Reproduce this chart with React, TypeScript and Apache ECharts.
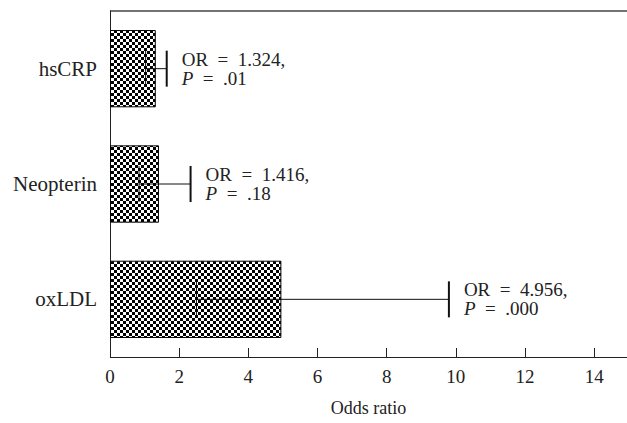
import React, { useEffect, useRef } from "react";
import * as echarts from "echarts";

const categories = ["oxLDL", "Neopterin", "hsCRP"];
const oddsRatios = [4.956, 1.416, 1.324];
const ciLower = [2.5, 0.84, 1.03];
const ciUpper = [9.8, 2.33, 1.64];
const pValues = [".000", ".18", ".01"];
const xTicks = [0, 2, 4, 6, 8, 10, 12, 14];

const FONT = "'Liberation Serif', 'DejaVu Serif', serif";

function makePattern(): string {
  const c = document.createElement("canvas");
  c.width = 6;
  c.height = 6;
  const ctx = c.getContext("2d")!;
  ctx.fillStyle = "#000";
  ctx.fillRect(0, 0, 3, 3);
  ctx.fillRect(3, 3, 3, 3);
  return c.toDataURL();
}

export default function App() {
  const ref = useRef<HTMLDivElement>(null);
  useEffect(() => {
    if (!ref.current) return;
    const chart = echarts.init(ref.current, undefined, { renderer: "svg" });
    const pattern = makePattern();
    const errData = categories.map((_, i) => [i, ciLower[i], ciUpper[i], oddsRatios[i]]);
    chart.setOption({
      animation: false,
      backgroundColor: "#fff",
      grid: {
        left: 110,
        top: 11,
        right: 0,
        height: 346,
        show: false,
      },
      xAxis: [
        {
          type: "value",
          min: 0,
          max: 14.95,
          interval: 2,
          name: "Odds ratio",
          nameLocation: "middle",
          nameGap: 42,
          nameTextStyle: { fontFamily: FONT, fontSize: 18, color: "#222" },
          axisLine: { show: false },
          axisTick: { show: true, inside: true, length: 9, lineStyle: { color: "#222" } },
          splitLine: { show: false },
          axisLabel: {
            fontFamily: FONT,
            fontSize: 19,
            color: "#222",
            margin: 10,
            showMaxLabel: false,
            formatter: (v: number) => (xTicks.indexOf(v) >= 0 ? String(v) : ""),
          },
        },
      ],
      yAxis: {
        type: "category",
        data: categories,
        axisLine: { show: true, lineStyle: { color: "#222", width: 1 } },
        axisTick: { show: false },
        splitLine: { show: false },
        axisLabel: { fontFamily: FONT, fontSize: 21, color: "#222", margin: 13 },
      },
      graphic: [
        {
          type: "line",
          shape: { x1: 110, y1: 11, x2: 627, y2: 11 },
          style: { stroke: "#444", lineWidth: 1.5 },
        },
        {
          type: "line",
          shape: { x1: 110, y1: 357.5, x2: 627, y2: 357.5 },
          style: { stroke: "#222", lineWidth: 1 },
        },
      ],
      series: [
        {
          type: "custom",
          z: 1,
          data: errData,
          renderItem: (params: any, api: any) => {
            const cat = api.value(0);
            const lo = api.coord([api.value(1), cat]);
            const hi = api.coord([api.value(2), cat]);
            const i = params.dataIndex;
            const cap = 18;
            return {
              type: "group",
              children: [
                {
                  type: "line",
                  shape: { x1: lo[0], y1: lo[1], x2: hi[0], y2: hi[1] },
                  style: { stroke: "#111", lineWidth: 1 },
                },
                {
                  type: "line",
                  shape: { x1: lo[0], y1: lo[1] - cap, x2: lo[0], y2: lo[1] + cap },
                  style: { stroke: "#111", lineWidth: 1 },
                },
                {
                  type: "line",
                  shape: { x1: hi[0], y1: hi[1] - cap, x2: hi[0], y2: hi[1] + cap },
                  style: { stroke: "#111", lineWidth: 2 },
                },
                {
                  type: "text",
                  x: hi[0] + 15,
                  y: hi[1],
                  style: {
                    text: "OR\u2002=\u2002" + oddsRatios[i].toFixed(3) + ",\n{i|P}\u2002=\u2002" + pValues[i],
                    fontFamily: FONT,
                    fontSize: 19,
                    fill: "#222",
                    lineHeight: 19,
                    verticalAlign: "middle",
                    align: "left",
                    rich: {
                      i: { fontFamily: FONT, fontSize: 19, fontStyle: "italic", fill: "#222" },
                    },
                  },
                },
              ],
            };
          },
        },
        {
          type: "bar",
          z: 2,
          data: oddsRatios,
          barWidth: "67%",
          itemStyle: {
            color: { image: pattern, repeat: "repeat" },
            borderColor: "#000",
            borderWidth: 1,
          },
        },
      ],
    });
    return () => chart.dispose();
  }, []);
  return (
    <div
      ref={ref}
      style={{ position: "fixed", left: 0, top: 0, width: 627, height: 423 }}
    />
  );
}
